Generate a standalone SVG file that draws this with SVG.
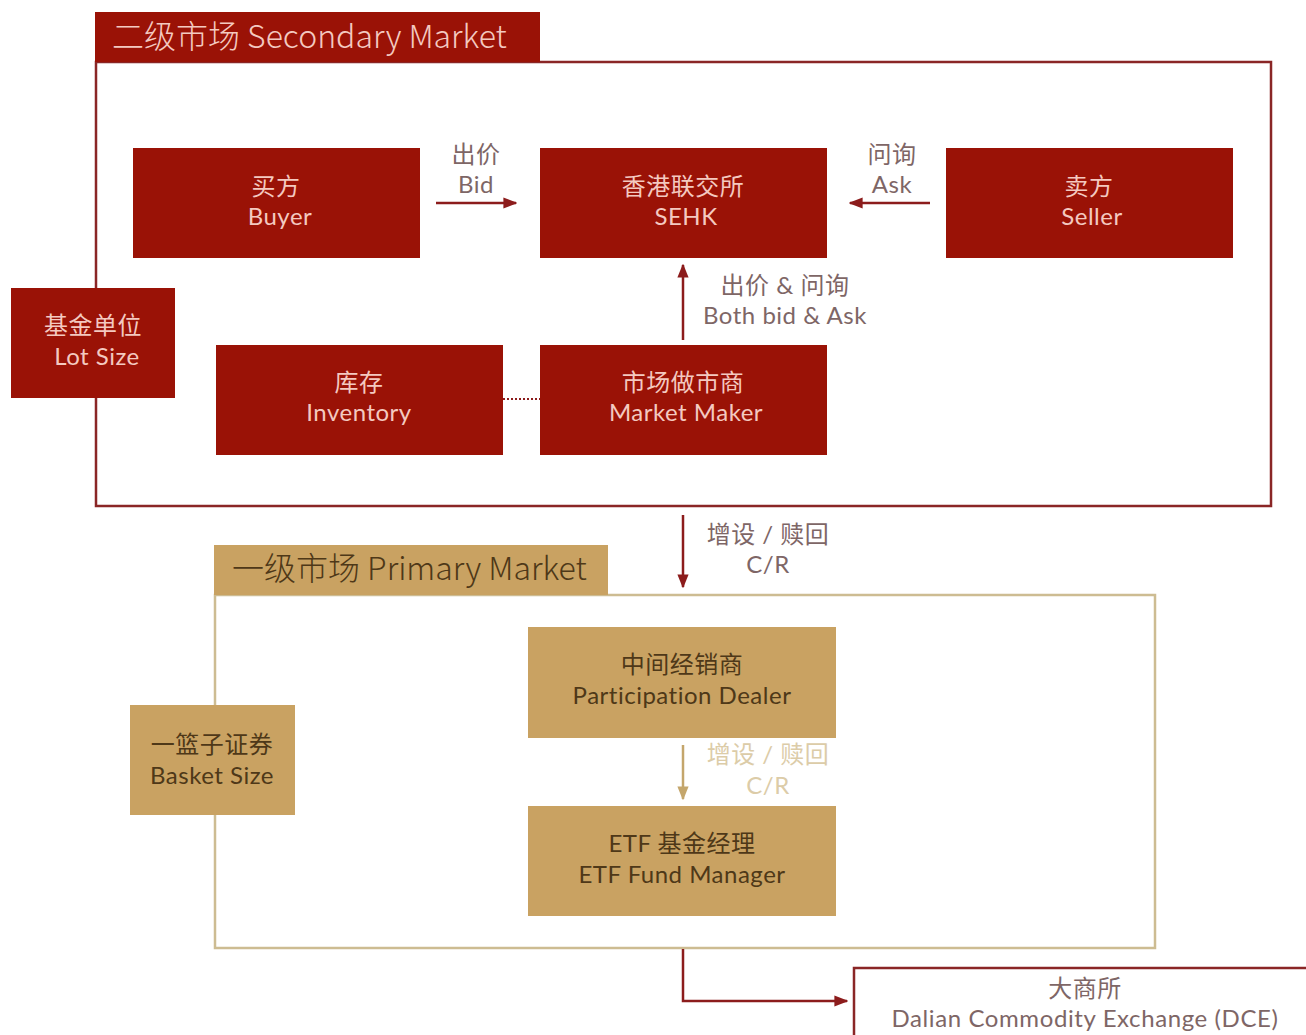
<svg xmlns="http://www.w3.org/2000/svg" width="1306" height="1035" viewBox="0 0 1306 1035">
<defs>
<style>
text{font-family:Lato,"Noto Sans CJK SC",sans-serif;text-anchor:middle;font-weight:400;letter-spacing:0.5px}
.red{fill:#9a1206}
.tan{fill:#c9a262}
.rt{fill:#f4c9c0;font-size:24px}
.tt{fill:#4e3818;font-size:24px}
.lbl{fill:#7e6666;font-size:24px}
.lbl2{fill:#dccca8;font-size:24px}
.hdr{font-family:"Noto Sans CJK SC","Noto Sans",sans-serif;font-weight:300;font-size:32px;text-anchor:start;letter-spacing:0}
.ln{stroke:#8c1c1c;stroke-width:2.5;fill:none}
.lnt{stroke:#c4a66c;stroke-width:2.5;fill:none}
</style>
<marker id="at" viewBox="0 0 10 10" refX="9" refY="5" markerWidth="14" markerHeight="14" orient="auto" markerUnits="userSpaceOnUse">
<path d="M0,1 L10,5 L0,9 z" fill="#c4a66c"/>
</marker>
<marker id="ar2" viewBox="0 0 10 10" refX="9" refY="5" markerWidth="14" markerHeight="14" orient="auto" markerUnits="userSpaceOnUse">
<path d="M0,1 L10,5 L0,9 z" fill="#8c1c1c"/>
</marker>
</defs>
<rect width="1306" height="1035" fill="#ffffff"/>

<g id="secondary-market">
<rect x="96" y="62" width="1175" height="444" fill="none" stroke="#8a2626" stroke-width="2.5"/>
<rect x="95" y="12" width="445" height="50" class="red"/>
<text x="112" y="48" class="hdr" fill="#f4c9c0">二级市场 Secondary Market</text>
</g>

<g id="primary-market">
<rect x="215" y="595" width="940" height="353" fill="none" stroke="#cdbc92" stroke-width="2.5"/>
<rect x="214" y="545" width="394" height="50" class="tan"/>
<text x="232" y="580" class="hdr" fill="#4e3818">一级市场 Primary Market</text>
</g>

<g id="connectors">
<line x1="436" y1="203" x2="516" y2="203" class="ln" marker-end="url(#ar2)"/>
<line x1="930" y1="203" x2="850" y2="203" class="ln" marker-end="url(#ar2)"/>
<line x1="683" y1="340" x2="683" y2="265" class="ln" marker-end="url(#ar2)"/>
<line x1="503" y1="399" x2="540" y2="399" stroke="#8c1c1c" stroke-width="2" stroke-dasharray="2,2"/>
<line x1="683" y1="515" x2="683" y2="587" class="ln" marker-end="url(#ar2)"/>
<line x1="683" y1="745" x2="683" y2="799" class="lnt" marker-end="url(#at)"/>
<polyline points="683,949 683,1001 847,1001" class="ln" marker-end="url(#ar2)"/>
<text class="lbl"><tspan x="476" y="163">出价</tspan><tspan x="476" y="193">Bid</tspan></text>
<text class="lbl"><tspan x="892" y="163">问询</tspan><tspan x="892" y="193">Ask</tspan></text>
<text class="lbl"><tspan x="785" y="294">出价 &amp; 问询</tspan><tspan x="785" y="324">Both bid &amp; Ask</tspan></text>
<text class="lbl"><tspan x="768" y="543">增设 / 赎回</tspan><tspan x="768" y="573">C/R</tspan></text>
<text class="lbl2"><tspan x="768" y="763">增设 / 赎回</tspan><tspan x="768" y="794">C/R</tspan></text>
</g>

<g id="buyer">
<rect x="133" y="148" width="287" height="110" class="red"/>
<text class="rt"><tspan x="276" y="195">买方</tspan><tspan x="280" y="225">Buyer</tspan></text>
</g>
<g id="sehk">
<rect x="540" y="148" width="287" height="110" class="red"/>
<text class="rt"><tspan x="683" y="195">香港联交所</tspan><tspan x="686" y="225">SEHK</tspan></text>
</g>
<g id="seller">
<rect x="946" y="148" width="287" height="110" class="red"/>
<text class="rt"><tspan x="1089" y="195">卖方</tspan><tspan x="1092" y="225">Seller</tspan></text>
</g>
<g id="lot-size">
<rect x="11" y="288" width="164" height="110" class="red"/>
<text class="rt"><tspan x="93" y="334">基金单位</tspan><tspan x="97" y="365">Lot Size</tspan></text>
</g>
<g id="inventory">
<rect x="216" y="345" width="287" height="110" class="red"/>
<text class="rt"><tspan x="359" y="391">库存</tspan><tspan x="359" y="421">Inventory</tspan></text>
</g>
<g id="market-maker">
<rect x="540" y="345" width="287" height="110" class="red"/>
<text class="rt"><tspan x="683" y="391">市场做市商</tspan><tspan x="686" y="421">Market Maker</tspan></text>
</g>
<g id="participation-dealer">
<rect x="528" y="627" width="308" height="111" class="tan"/>
<text class="tt"><tspan x="682" y="673">中间经销商</tspan><tspan x="682" y="704">Participation Dealer</tspan></text>
</g>
<g id="etf-fund-manager">
<rect x="528" y="806" width="308" height="110" class="tan"/>
<text class="tt"><tspan x="682" y="852">ETF 基金经理</tspan><tspan x="682" y="883">ETF Fund Manager</tspan></text>
</g>
<g id="basket-size">
<rect x="130" y="705" width="165" height="110" class="tan"/>
<text class="tt"><tspan x="212" y="753">一篮子证券</tspan><tspan x="212" y="784">Basket Size</tspan></text>
</g>
<g id="dce">
<rect x="854" y="968" width="460" height="80" fill="#ffffff" stroke="#8a2626" stroke-width="2.5"/>
<text class="lbl"><tspan x="1085" y="997">大商所</tspan><tspan x="1085" y="1027" style="letter-spacing:0.6px">Dalian Commodity Exchange (DCE)</tspan></text>
</g>
</svg>
